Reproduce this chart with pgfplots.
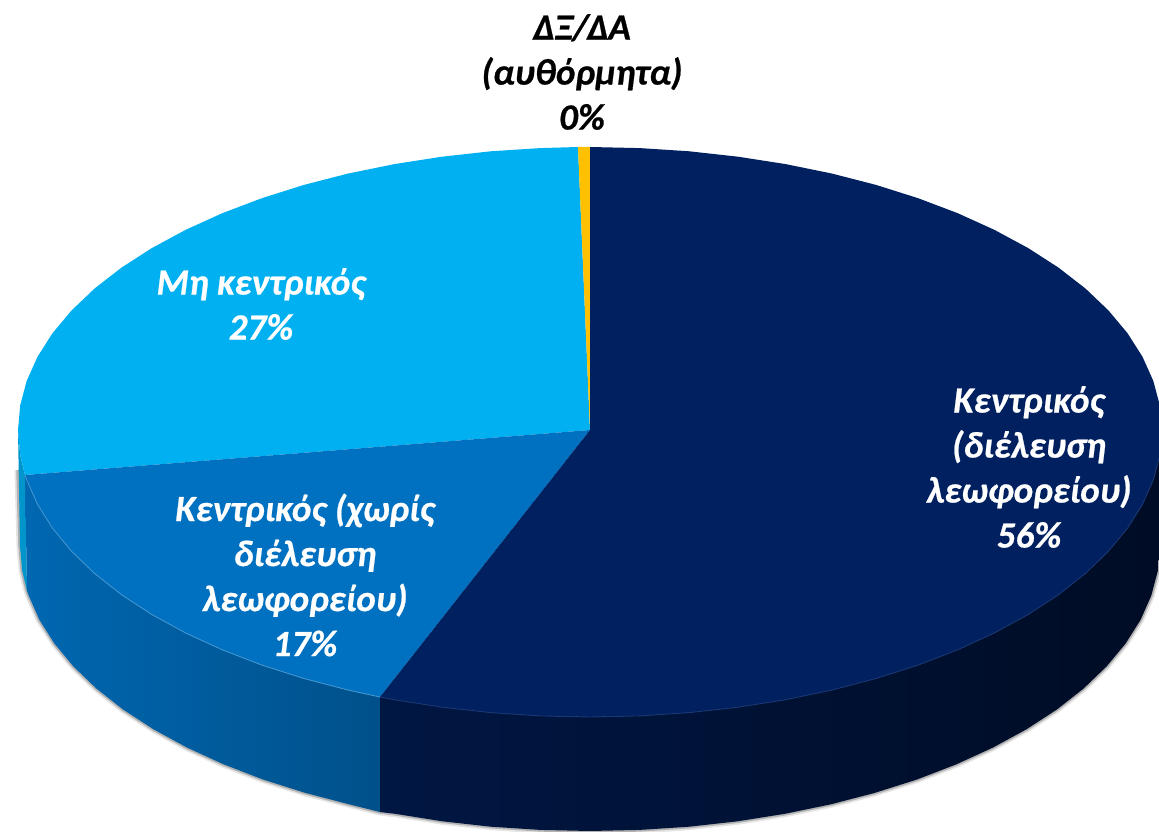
\documentclass[border=0pt]{standalone}
\usepackage{pgfplots}
\usepackage{pgfplotstable}
\pgfplotsset{compat=1.18}
\usepackage{fontspec}
\setmainfont{Carlito}[BoldItalicFeatures={FakeBold=0.6}]
\definecolor{cMain}{HTML}{002060}
\definecolor{cMid}{HTML}{0070C0}
\definecolor{cLight}{HTML}{00B0F0}
\definecolor{cYel}{HTML}{FFC000}
\pgfplotstableread{
x y
1160 546
1157.8 570.9
1151.3 595.5
1140.6 619.8
1125.6 643.5
1106.6 666.4
1083.6 688.5
1056.9 709.5
1026.6 729.2
993.1 747.5
956.4 764.3
917 779.5
875 792.8
830.9 804.3
784.9 813.8
737.5 821.3
689 826.7
639.7 829.9
590 831
540.3 829.9
491 826.7
442.5 821.3
395.1 813.8
380 812
349.1 804.3
305 792.8
263 779.5
223.6 764.3
186.9 747.5
153.4 729.2
123.1 709.5
96.4 688.5
73.4 666.4
54.4 643.5
39.4 619.8
28.7 595.5
27 590.6
22.2 570.9
20 546
18 470
}\loweredge
\pgfplotstableread{
x y
380 697
394.4 699.7
442 707.2
490.7 712.6
540.1 715.9
590 717
639.9 715.9
689.3 712.6
738 707.2
785.6 699.7
831.7 690.1
876 678.5
918.1 665.1
957.7 649.8
994.5 632.9
1028.2 614.5
1058.6 594.6
1085.4 573.5
1108.4 551.3
1127.5 528.2
1142.5 504.3
1153.3 479.8
1159.8 455
1162 430
}\frontmain
\pgfplotstableread{
x y
380 697
348.3 690.1
304 678.5
261.9 665.1
222.3 649.8
185.5 632.9
151.8 614.5
121.4 594.6
94.6 573.5
71.6 551.3
52.5 528.2
37.5 504.3
26.7 479.8
25 475
}\frontmid
\begin{document}
\begin{tikzpicture}
\begin{axis}[
  scale only axis, width=1159pt, height=832pt,
  xmin=0, xmax=1159, ymin=0, ymax=832, y dir=reverse,
  hide axis, clip=true]
% soft shadow under the disc
\addplot[draw=black!10, line width=7pt, forget plot] table {\loweredge};
\addplot[draw=black!30, line width=3.5pt, forget plot] table {\loweredge};
% walls
\addplot[draw=none, fill=cLight!85!black, forget plot] coordinates {(18,430)(20,546)(22.2,570.9)(27,590.6)(25,475)(20.2,455)} -- cycle;
\addplot[draw=none, left color=cMid!92!black, right color=cMid!72!black, forget plot] coordinates {
(25,475)(26.7,479.8)(37.5,504.3)(52.5,528.2)(71.6,551.3)(94.6,573.5)(121.4,594.6)(151.8,614.5)(185.5,632.9)(222.3,649.8)(261.9,665.1)(304,678.5)(348.3,690.1)(380,697)
(380,812)(349.1,804.3)(305,792.8)(263,779.5)(223.6,764.3)(186.9,747.5)(153.4,729.2)(123.1,709.5)(96.4,688.5)(73.4,666.4)(54.4,643.5)(39.4,619.8)(28.7,595.5)(27,590.6)} -- cycle;
\addplot[draw=none, left color=cMain!70!black, right color=cMain!38!black, forget plot] coordinates {
(380,697)(394.4,699.7)(442,707.2)(490.7,712.6)(540.1,715.9)(590,717)(639.9,715.9)(689.3,712.6)(738,707.2)(785.6,699.7)(831.7,690.1)(876,678.5)(918.1,665.1)(957.7,649.8)(994.5,632.9)(1028.2,614.5)(1058.6,594.6)(1085.4,573.5)(1108.4,551.3)(1127.5,528.2)(1142.5,504.3)(1153.3,479.8)(1159.8,455)(1162,430)
(1160,546)(1157.8,570.9)(1151.3,595.5)(1140.6,619.8)(1125.6,643.5)(1106.6,666.4)(1083.6,688.5)(1056.9,709.5)(1026.6,729.2)(993.1,747.5)(956.4,764.3)(917,779.5)(875,792.8)(830.9,804.3)(784.9,813.8)(737.5,821.3)(689,826.7)(639.7,829.9)(590,831)(540.3,829.9)(491,826.7)(442.5,821.3)(395.1,813.8)(380,812)} -- cycle;
% top faces
\addplot[draw=none, fill=cLight, forget plot] coordinates {
(590,430)(25,475)(20.2,455)(18,430)(20.2,405.3)(26.7,380.9)(37.5,356.8)(52.5,333.2)(71.6,310.4)(94.6,288.5)(121.4,267.7)(151.8,248.1)(185.5,229.9)(222.3,213.2)(261.9,198.2)(304,184.9)(348.3,173.5)(394.4,164.1)(442,156.7)(490.7,151.3)(540.1,148.1)(578,147)} -- cycle;
\addplot[draw=none, fill=cYel, forget plot] coordinates {(590,430)(578,147)(590,147)} -- cycle;
\addplot[draw=none, fill=cMid, forget plot] coordinates {
(590,430)(380,697)(348.3,690.1)(304,678.5)(261.9,665.1)(222.3,649.8)(185.5,632.9)(151.8,614.5)(121.4,594.6)(94.6,573.5)(71.6,551.3)(52.5,528.2)(37.5,504.3)(26.7,479.8)(25,475)} -- cycle;
\addplot[draw=none, fill=cMain, forget plot] coordinates {
(590,430)(590,147)(639.9,148.1)(689.3,151.3)(738,156.7)(785.6,164.1)(831.7,173.5)(876,184.9)(918.1,198.2)(957.7,213.2)(994.5,229.9)(1028.2,248.1)(1058.6,267.7)(1085.4,288.5)(1108.4,310.4)(1127.5,333.2)(1142.5,356.8)(1153.3,380.9)(1159.8,405.3)(1162,430)(1159.8,455)(1153.3,479.8)(1142.5,504.3)(1127.5,528.2)(1108.4,551.3)(1085.4,573.5)(1058.6,594.6)(1028.2,614.5)(994.5,632.9)(957.7,649.8)(918.1,665.1)(876,678.5)(831.7,690.1)(785.6,699.7)(738,707.2)(689.3,712.6)(639.9,715.9)(590,717)(540.1,715.9)(490.7,712.6)(442,707.2)(394.4,699.7)(380,697)} -- cycle;
% rim highlights
\addplot[draw=cMid!75!white, line width=0.9pt, forget plot] table {\frontmid};
\addplot[draw=cMain!90!white, line width=0.9pt, forget plot] table {\frontmain};
% labels
\node[align=center, text=white, font=\fontsize{37}{45}\selectfont\bfseries\itshape] at (axis cs:1029,467) {Κεντρικός\\(διέλευση\\λεωφορείου)\\56\%};
\node[align=center, text=white, font=\fontsize{37}{45}\selectfont\bfseries\itshape] at (axis cs:305,575) {Κεντρικός (χωρίς\\διέλευση\\λεωφορείου)\\17\%};
\node[align=center, text=white, font=\fontsize{37}{45}\selectfont\bfseries\itshape] at (axis cs:261,304) {Μη κεντρικός\\27\%};
\node[align=center, text=black, font=\fontsize{37}{45}\selectfont\bfseries\itshape] at (axis cs:582,72) {ΔΞ/ΔΑ\\(αυθόρμητα)\\0\%};
\end{axis}
\pgfresetboundingbox
\useasboundingbox (0,0) rectangle (1159pt,832pt);
\end{tikzpicture}
\end{document}
